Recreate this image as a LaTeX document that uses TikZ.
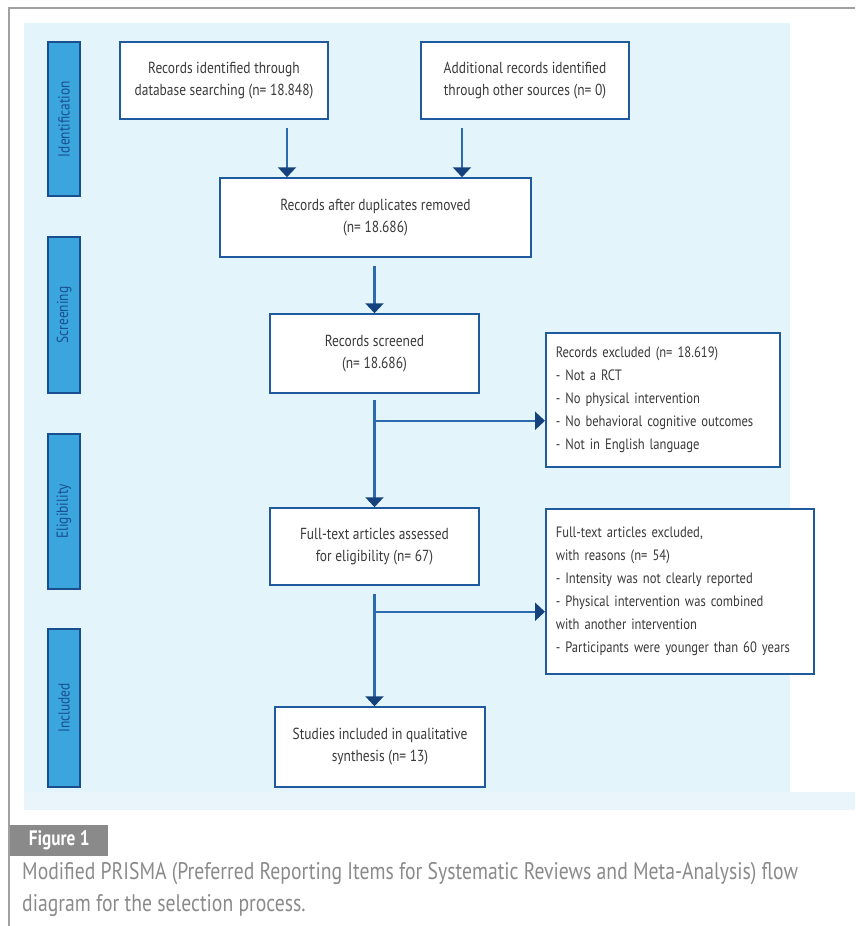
\documentclass[tikz,border=0pt]{standalone}
\usepackage{fontspec}
\setmainfont{PT Sans}[FakeStretch=0.84]
\newfontfamily\capfont{PT Sans}[FakeStretch=0.82]
\usepackage{xcolor}
\definecolor{framegray}{HTML}{A0A0A0}
\definecolor{bgcyan}{HTML}{E3F5FA}
\definecolor{bandblue}{HTML}{EAF5FB}
\definecolor{boxblue}{HTML}{1F5A9E}
\definecolor{phasefill}{HTML}{3BA6DE}
\definecolor{phaseline}{HTML}{1A4F8F}
\definecolor{linkblue}{HTML}{2E6BAE}
\definecolor{tipnavy}{HTML}{15427C}
\definecolor{textgray}{HTML}{3A3A3A}
\definecolor{capgray}{HTML}{8A8A8A}
\usepackage{tikz}
\usetikzlibrary{arrows.meta, positioning, calc}
\tikzset{
  flowbox/.style ={rectangle, draw=boxblue, line width=1.5pt, fill=white, text=textgray, align=center,
                   inner sep=4pt, font=\fontsize{16}{22}\selectfont},
  exclbox/.style ={rectangle, draw=boxblue, line width=1.5pt, fill=white, text=textgray, align=left,
                   inner xsep=10pt, inner ysep=6pt, font=\fontsize{15}{23}\selectfont},
  phase/.style   ={rectangle, draw=phaseline, line width=1.2pt, fill=phasefill, text=phaseline,
                   minimum width=32pt, inner sep=0pt, font=\fontsize{16}{18}\selectfont},
  arr/.style     ={-{Triangle[width=18pt,length=10pt,color=tipnavy]}, line width=2.3pt, color=linkblue},
}

\begin{document}
\begin{tikzpicture}[x=1pt, y=-1pt]
  \useasboundingbox (0,0) rectangle (855,926);
  % frame and background
  \draw[framegray, line width=1.5pt] (855,8) -- (9,8) -- (9,926);
  \fill[bgcyan] (24,23) rectangle (790,792);
  \fill[bandblue] (24,792) rectangle (855,810);

  % phase labels
  \node[phase, minimum height=154pt] (pid) at (64,119) {\rotatebox{90}{Identification}};
  \node[phase, minimum height=156pt] (psc) at (64,315) {\rotatebox{90}{Screening}};
  \node[phase, minimum height=155pt] (pel) at (64,511.5) {\rotatebox{90}{Eligibility}};
  \node[phase, minimum height=158pt] (pin) at (64,708) {\rotatebox{90}{Included}};

  % flow boxes
  \node[flowbox, minimum width=208pt, minimum height=77pt] (db) at (224,80.5)
    {Records identified through\\database searching (n= 18.848)};
  \node[flowbox, minimum width=208pt, minimum height=77pt] (other) at (525,80.5)
    {Additional records identified\\through other sources (n= 0)};
  \node[flowbox, minimum width=311pt, minimum height=79pt] (dup) at (375.5,217.5)
    {Records after duplicates removed\\(n= 18.686)};
  \node[flowbox, minimum width=209pt, minimum height=79pt] (scr) at (374.5,353.5)
    {Records screened\\(n= 18.686)};
  \node[exclbox, text width=214pt, minimum height=134pt, anchor=north west] (exc1) at (545,332)
    {Records excluded (n= 18.619)\\- Not a RCT\\- No physical intervention\\- No behavioral cognitive outcomes\\- Not in English language};
  \node[flowbox, minimum width=209pt, minimum height=77pt] (full) at (374.5,546.5)
    {Full-text articles assessed\\for eligibility (n= 67)};
  \node[exclbox, text width=248pt, minimum height=165pt, anchor=north west] (exc2) at (545,508)
    {Full-text articles excluded,\\with reasons (n= 54)\\- Intensity was not clearly reported\\- Physical intervention was combined\\with another intervention\\- Participants were younger than 60 years};
  \node[flowbox, minimum width=210pt, minimum height=80pt] (incl) at (380,747)
    {Studies included in qualitative\\synthesis (n= 13)};

  % connectors
  \draw[arr] ([xshift=63pt,yshift=-8pt]db.south) -- ([xshift=63pt]db.south |- dup.north);
  \draw[arr] ([xshift=-63pt,yshift=-8pt]other.south) -- ([xshift=-63pt]other.south |- dup.north);
  \draw[arr] ([yshift=-8pt]dup.south -| scr.north) -- (scr.north);
  \draw[arr] ([yshift=-6pt]scr.south) -- (full.north);
  \coordinate (br1) at ($(scr.south)+(0,27)$);
  \draw[arr] (br1) -- (br1 -| exc1.west);
  \draw[arr] ([yshift=-8pt]full.south) -- (full.south |- incl.north);
  \coordinate (br2) at ($(full.south)+(0,26)$);
  \draw[arr] (br2) -- (br2 -| exc2.west);

  % caption
  \node[fill=capgray, minimum width=98pt, minimum height=31pt, inner sep=0pt, anchor=north west,
        text=white, font=\capfont\bfseries\fontsize{21}{21}\selectfont] (tag) at (10,825) {Figure 1};
  \node[anchor=north west, align=left, text=capgray, inner sep=0pt,
        font=\capfont\fontsize{24}{32}\selectfont] (cap) at (22,862)
    {Modified PRISMA (Preferred Reporting Items for Systematic Reviews and Meta-Analysis) flow\\diagram for the selection process.};
\end{tikzpicture}
\end{document}
